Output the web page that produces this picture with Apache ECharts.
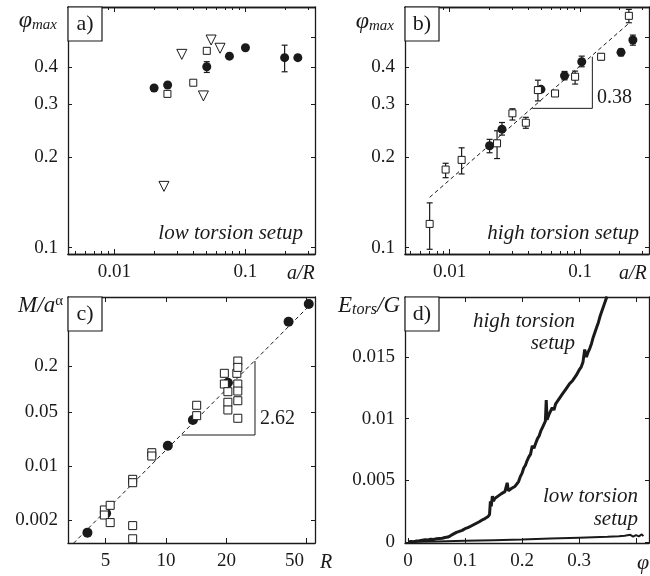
<!DOCTYPE html>
<html>
<head>
<meta charset="utf-8">
<script src="https://cdn.jsdelivr.net/npm/echarts@6/dist/echarts.min.js"></script>
<style>
html, body { margin: 0; padding: 0; background: #fff; }
#chart-container { width: 650px; height: 576px; }
</style>
</head>
<body>
<div id="chart-container"></div>
<script>
// a) low torsion setup: phi_max vs a/R
const aCircX = [0.0201, 0.0255, 0.0507, 0.0755, 0.100, 0.199, 0.251];
const aCircY = [0.340, 0.348, 0.400, 0.434, 0.463, 0.429, 0.429];
const aCircLo = [null, null, 0.383, null, null, 0.385, null];
const aCircHi = [null, null, 0.416, null, null, 0.472, null];
const aSqX = [0.0254, 0.040, 0.0507];
const aSqY = [0.325, 0.354, 0.452];
const aTriX = [0.0327, 0.0239, 0.0478, 0.0547, 0.064];
const aTriY = [0.440, 0.160, 0.320, 0.491, 0.461];

// b) high torsion setup
const bSqX = [0.00703, 0.00932, 0.01236, 0.0231, 0.0303, 0.0384, 0.0475, 0.0643, 0.0916, 0.145, 0.2366];
const bSqY = [0.120, 0.182, 0.196, 0.2225, 0.280, 0.2606, 0.3346, 0.326, 0.3706, 0.432, 0.591];
const bSqLo = [0.0988, 0.171, 0.176, 0.198, 0.266, 0.2497, 0.308, null, 0.3504, 0.422, 0.5605];
const bSqHi = [0.141, 0.191, 0.215, 0.245, 0.290, 0.2716, 0.361, null, 0.387, 0.442, 0.621];
const bCircX = [0.02025, 0.0252, 0.0501, 0.076, 0.103, 0.206, 0.254];
const bCircY = [0.2185, 0.248, 0.3365, 0.3735, 0.4157, 0.4467, 0.491];
const bCircLo = [0.207, 0.237, null, 0.362, 0.400, 0.435, 0.472];
const bCircHi = [0.2294, 0.261, null, 0.386, 0.434, 0.458, 0.510];
const bFitX = [0.00703, 0.2366];
const bFitY = [0.1471, 0.558];
const bSlopeX = [0.0430, 0.1242, 0.1242];
const bSlopeY = [0.2909, 0.2909, 0.432];

// c) M/a^alpha vs R
const cCircX = [4.06, 5.03, 10.2, 13.6, 20.3, 40.7, 51.3];
const cCircY = [0.00137, 0.00244, 0.01845, 0.0398, 0.121, 0.752, 1.277];
const cSqX = [4.93, 4.93, 5.27, 5.27, 6.82, 6.82, 6.82, 6.82, 8.49, 8.49, 14.2, 14.2,
    19.5, 19.5, 20.3, 20.3, 20.3, 22.5, 22.75, 22.75, 22.75, 22.75, 22.75, 22.75];
const cSqY = [0.0027, 0.00232, 0.0031, 0.00185, 0.00169, 0.00114, 0.00675, 0.0061, 0.01496, 0.01355, 0.0618, 0.0453,
    0.1607, 0.1167, 0.0927, 0.0676, 0.0537, 0.1607, 0.232, 0.192, 0.1167, 0.0946, 0.0708, 0.0419];
const cFitX = [3.46, 52.0];
const cFitY = [0.000996, 1.24];
const cSlopeX = [11.97, 27.7, 27.7];
const cSlopeY = [0.0254, 0.0254, 0.232];

// d) E_tors/G vs phi (values read off the noisy traces)
const hiPhi = [0, 0.005, 0.01, 0.015, 0.02, 0.025, 0.03, 0.035, 0.04, 0.045, 0.05, 0.055, 0.06, 0.065, 0.07,
    0.075, 0.08, 0.085, 0.088, 0.09, 0.093, 0.095, 0.1, 0.105, 0.11, 0.115, 0.12, 0.125, 0.13, 0.135, 0.14,
    0.143, 0.1445, 0.146, 0.148, 0.150, 0.152, 0.155, 0.158, 0.161, 0.164, 0.167, 0.170, 0.172, 0.174, 0.176,
    0.179, 0.182, 0.185, 0.188, 0.191, 0.194, 0.197, 0.200, 0.203, 0.206, 0.209, 0.212, 0.215, 0.218, 0.221,
    0.224, 0.227, 0.230, 0.233, 0.236, 0.239, 0.241, 0.2425, 0.244, 0.247, 0.250, 0.253, 0.256, 0.259, 0.262,
    0.265, 0.268, 0.271, 0.274, 0.277, 0.280, 0.283, 0.286, 0.289, 0.292, 0.295, 0.298, 0.301, 0.304, 0.307,
    0.310, 0.313, 0.316, 0.319, 0.322, 0.325, 0.328, 0.331, 0.334, 0.337, 0.340, 0.343, 0.346, 0.349];
const hiE = [0, 0.00004, 0.00002, 0.00008, 0.00010, 0.00014, 0.00018, 0.00016, 0.00022, 0.00020, 0.00026, 0.00028, 0.00030, 0.00036, 0.00040,
    0.00052, 0.00066, 0.00078, 0.00092, 0.00086, 0.00100, 0.00094, 0.00108, 0.00116, 0.00128, 0.00140, 0.00152, 0.00164, 0.00178, 0.00190, 0.00204,
    0.00222, 0.00330, 0.00290, 0.00372, 0.00330, 0.00352, 0.00360, 0.00372, 0.00378, 0.00392, 0.00398, 0.00408, 0.00412, 0.00480, 0.00416,
    0.00428, 0.00436, 0.00448, 0.00452, 0.00468, 0.00490, 0.00530, 0.00556, 0.00600, 0.00622, 0.00660, 0.00690, 0.00712, 0.00780, 0.00760,
    0.00800, 0.00836, 0.00860, 0.00900, 0.00930, 0.00960, 0.00980, 0.01150, 0.00990, 0.01030, 0.01040, 0.01090, 0.01070, 0.01120, 0.01110,
    0.01160, 0.01150, 0.01200, 0.01190, 0.01240, 0.01230, 0.01280, 0.01270, 0.01310, 0.01300, 0.01350, 0.01360, 0.01400, 0.01420, 0.01460, 0.01560,
    0.01500, 0.01540, 0.01570, 0.01610, 0.01660, 0.01700, 0.01740, 0.01780, 0.01830, 0.01870, 0.01910, 0.01950, 0.01990, 0.02040];
const loPhi = [0, 0.02, 0.05, 0.10, 0.15, 0.20, 0.25, 0.30, 0.35, 0.37, 0.38, 0.39, 0.395, 0.40, 0.405, 0.41, 0.413];
const loE = [0, 0.00002, 0.00005, 0.00010, 0.00015, 0.00020, 0.00028, 0.00035, 0.00042, 0.00046, 0.00050, 0.00058, 0.00044, 0.00056, 0.00046, 0.00062, 0.00048];

// ticks
const abMajor = [0.01, 0.1];
const abMinor = [0.005, 0.006, 0.007, 0.008, 0.009, 0.02, 0.03, 0.04, 0.05, 0.06, 0.07, 0.08, 0.09, 0.2, 0.3];
const abYLabels = [0.1, 0.2, 0.3, 0.4];
const abYTicks = [0.1, 0.2, 0.3, 0.4, 0.5];
const cXTicks = [5, 10, 20, 50];
const cYTicks = [0.002, 0.01, 0.05, 0.2];
const dXTicks = [0, 0.1, 0.2, 0.3, 0.4];
const dXLabels = [0, 0.1, 0.2, 0.3];
const dYTicks = [0, 0.005, 0.01, 0.015];

document.addEventListener('DOMContentLoaded', function () {

    const FONT = '"Liberation Serif", "Times New Roman", serif';
    const INK = '#1a1a1a';
    const fmt = v => String(+(+v).toPrecision(4));
    // the "50" label sits left of its tick, clear of the R
    const fmtC = v => (+v === 50 ? '{s|50}' : fmt(v));

    function axis(type, grid, pos, min, max, ticks, labels, len, dim, formatter) {
        const ax = {
            type: type, gridIndex: grid, position: pos, min: min, max: max,
            axisLine: { show: true, onZero: false, lineStyle: { color: INK, width: 1.3 } },
            axisTick: { show: true, inside: true, length: len, customValues: ticks, lineStyle: { color: INK, width: 1 } },
            axisLabel: labels ? {
                show: true, customValues: labels, margin: dim === 'x' ? 9 : 10,
                fontFamily: FONT, fontSize: 19, color: INK, formatter: formatter || fmt,
                rich: { s: { fontFamily: FONT, fontSize: 19, color: INK, padding: [0, 24, 0, 0] } }
            } : { show: false },
            splitLine: { show: false }
        };
        if (type === 'log') ax.logBase = 10;
        return ax;
    }

    const xAxis = [
        axis('log', 0, 'bottom', 0.00443, 0.3393, abMajor, abMajor, 5, 'x'),
        axis('log', 0, 'bottom', 0.00443, 0.3393, abMinor, null, 3, 'x'),
        axis('log', 0, 'top', 0.00443, 0.3393, abMajor, null, 5, 'x'),
        axis('log', 0, 'top', 0.00443, 0.3393, abMinor, null, 3, 'x'),
        axis('log', 1, 'bottom', 0.00455, 0.3376, abMajor, abMajor, 5, 'x'),
        axis('log', 1, 'bottom', 0.00455, 0.3376, abMinor, null, 3, 'x'),
        axis('log', 1, 'top', 0.00455, 0.3376, abMajor, null, 5, 'x'),
        axis('log', 1, 'top', 0.00455, 0.3376, abMinor, null, 3, 'x'),
        axis('log', 2, 'bottom', 3.25, 55.1, cXTicks, cXTicks, 5, 'x', fmtC),
        axis('log', 2, 'top', 3.25, 55.1, cXTicks, null, 5, 'x'),
        axis('value', 3, 'bottom', -0.0053, 0.4228, dXTicks, dXLabels, 5, 'x'),
        axis('value', 3, 'top', -0.0053, 0.4228, dXTicks, null, 5, 'x')
    ];
    const yAxis = [
        axis('log', 0, 'left', 0.0953, 0.6324, abYTicks, abYLabels, 4, 'y'),
        axis('log', 0, 'right', 0.0953, 0.6324, abYTicks, null, 4, 'y'),
        axis('log', 1, 'left', 0.0953, 0.6324, abYTicks, abYLabels, 4, 'y'),
        axis('log', 1, 'right', 0.0953, 0.6324, abYTicks, null, 4, 'y'),
        axis('log', 2, 'left', 0.001005, 1.575, cYTicks, cYTicks, 4, 'y'),
        axis('log', 2, 'right', 0.001005, 1.575, cYTicks, null, 4, 'y'),
        axis('value', 3, 'left', -0.000081, 0.01986, dYTicks, dYTicks, 4, 'y'),
        axis('value', 3, 'right', -0.000081, 0.01986, dYTicks, null, 4, 'y')
    ];

    const pairs = (xs, ys) => xs.map((x, i) => [x, ys[i]]);

    function scatter(xs, ys, xi, yi, symbol, size, filled, rotate) {
        return {
            type: 'scatter', xAxisIndex: xi, yAxisIndex: yi, data: pairs(xs, ys),
            symbol: symbol, symbolSize: size, symbolRotate: rotate || 0,
            itemStyle: filled ? { color: INK, opacity: 1 } : { color: '#fff', borderColor: INK, borderWidth: 1, opacity: 1 },
            z: filled ? 3 : 4, silent: true
        };
    }

    function errorBars(xs, lo, hi, xi, yi) {
        const data = [];
        xs.forEach((x, i) => { if (lo[i] != null) data.push([x, lo[i], hi[i]]); });
        return {
            type: 'custom', xAxisIndex: xi, yAxisIndex: yi, data: data, z: 2, silent: true,
            encode: { x: 0, y: [1, 2] },
            renderItem: function (params, api) {
                const x = api.value(0);
                const p1 = api.coord([x, api.value(1)]);
                const p2 = api.coord([x, api.value(2)]);
                const st = { stroke: INK, lineWidth: 1.2 };
                return {
                    type: 'group', children: [
                        { type: 'line', shape: { x1: p1[0], y1: p1[1], x2: p2[0], y2: p2[1] }, style: st },
                        { type: 'line', shape: { x1: p1[0] - 3, y1: p1[1], x2: p1[0] + 3, y2: p1[1] }, style: st },
                        { type: 'line', shape: { x1: p2[0] - 3, y1: p2[1], x2: p2[0] + 3, y2: p2[1] }, style: st }
                    ]
                };
            }
        };
    }

    function line(xs, ys, xi, yi, dashed, width) {
        return {
            type: 'line', xAxisIndex: xi, yAxisIndex: yi, data: pairs(xs, ys),
            symbol: 'none', showSymbol: false, silent: true, z: 1,
            lineStyle: { color: INK, width: width, type: dashed ? [4, 3] : 'solid' }
        };
    }

    const series = [
        // a)
        errorBars(aCircX, aCircLo, aCircHi, 0, 0),
        scatter(aCircX, aCircY, 0, 0, 'circle', 9, true),
        scatter(aSqX, aSqY, 0, 0, 'rect', 7, false),
        scatter(aTriX, aTriY, 0, 0, 'triangle', 10, false, 180),
        // b)
        line(bFitX, bFitY, 4, 2, true, 1),
        line(bSlopeX, bSlopeY, 4, 2, false, 1),
        errorBars(bSqX, bSqLo, bSqHi, 4, 2),
        errorBars(bCircX, bCircLo, bCircHi, 4, 2),
        scatter(bCircX, bCircY, 4, 2, 'circle', 9, true),
        scatter(bSqX, bSqY, 4, 2, 'rect', 7, false),
        // c)
        line(cFitX, cFitY, 8, 4, true, 1),
        line(cSlopeX, cSlopeY, 8, 4, false, 1),
        scatter(cCircX, cCircY, 8, 4, 'circle', 10, true),
        scatter(cSqX, cSqY, 8, 4, 'rect', 8, false),
        // d)
        line(hiPhi, hiE, 10, 6, false, 3),
        line(loPhi, loE, 10, 6, false, 2)
    ];

    function txt(x, y, text, extra) {
        return {
            type: 'text', x: x, y: y, z: 100, silent: true,
            style: Object.assign({
                text: text, fill: INK, fontFamily: FONT, fontSize: 20,
                align: 'left', verticalAlign: 'middle'
            }, extra || {})
        };
    }
    function box(x, y, label) {
        return [
            { type: 'rect', x: x, y: y, z: 90, silent: true, shape: { width: 34, height: 34 }, style: { fill: '#fff', stroke: INK, lineWidth: 1.2 } },
            txt(x + 17, y + 17, label, { align: 'center', fontSize: 22 })
        ];
    }
    const it = { fontStyle: 'italic' };
    const phiMax = {
        p: { fontFamily: FONT, fontSize: 24, fontStyle: 'italic', fill: INK, lineHeight: 24 },
        s: { fontFamily: FONT, fontSize: 15, fontStyle: 'italic', fill: INK, lineHeight: 12, verticalAlign: 'bottom' }
    };

    const graphic = [].concat(
        box(68, 7, 'a)'), box(405, 7, 'b)'), box(68, 297, 'c)'), box(405, 297, 'd)'),
        [
            txt(57, 21, '{p|φ}{s|max}', { align: 'right', rich: phiMax }),
            txt(394, 22, '{p|φ}{s|max}', { align: 'right', rich: phiMax }),
            txt(63, 306, '{m|M/a}{u|α}', {
                align: 'right', rich: {
                    m: { fontFamily: FONT, fontSize: 23, fontStyle: 'italic', fill: INK, lineHeight: 24 },
                    u: { fontFamily: FONT, fontSize: 15, fill: INK, lineHeight: 12, verticalAlign: 'top' }
                }
            }),
            txt(400, 306, '{m|E}{s|tors}{m|/G}', {
                align: 'right', rich: {
                    m: { fontFamily: FONT, fontSize: 23, fontStyle: 'italic', fill: INK, lineHeight: 24 },
                    s: { fontFamily: FONT, fontSize: 16, fontStyle: 'italic', fill: INK, lineHeight: 12, verticalAlign: 'bottom' }
                }
            }),
            txt(287, 274, 'a/R', Object.assign({ fontSize: 20 }, it)),
            txt(619, 274, 'a/R', Object.assign({ fontSize: 20 }, it)),
            txt(326, 563, 'R', Object.assign({ fontSize: 20, align: 'center' }, it)),
            txt(643, 563, 'φ', Object.assign({ fontSize: 22, align: 'center' }, it)),
            txt(303, 233, 'low torsion setup', Object.assign({ align: 'right', fontSize: 21 }, it)),
            txt(639, 233, 'high torsion setup', Object.assign({ align: 'right', fontSize: 21 }, it)),
            txt(575, 321, 'high torsion', Object.assign({ align: 'right', fontSize: 21 }, it)),
            txt(575, 343, 'setup', Object.assign({ align: 'right', fontSize: 21 }, it)),
            txt(638, 496, 'low torsion', Object.assign({ align: 'right', fontSize: 21 }, it)),
            txt(638, 519, 'setup', Object.assign({ align: 'right', fontSize: 21 }, it)),
            txt(597, 98, '0.38', { fontSize: 20 }),
            txt(260, 419, '2.62', { fontSize: 20 })
        ]
    );

    const option = {
        animation: false,
        backgroundColor: '#fff',
        grid: [
            { left: 68, top: 7, width: 247, height: 247 },
            { left: 405, top: 7, width: 244, height: 247 },
            { left: 68, top: 297, width: 247, height: 246 },
            { left: 405, top: 297, width: 244, height: 246 }
        ],
        xAxis: xAxis,
        yAxis: yAxis,
        series: series,
        graphic: graphic
    };

    const chart = echarts.init(document.getElementById('chart-container'));
    chart.setOption(option);

})
</script>
</body>
</html>
